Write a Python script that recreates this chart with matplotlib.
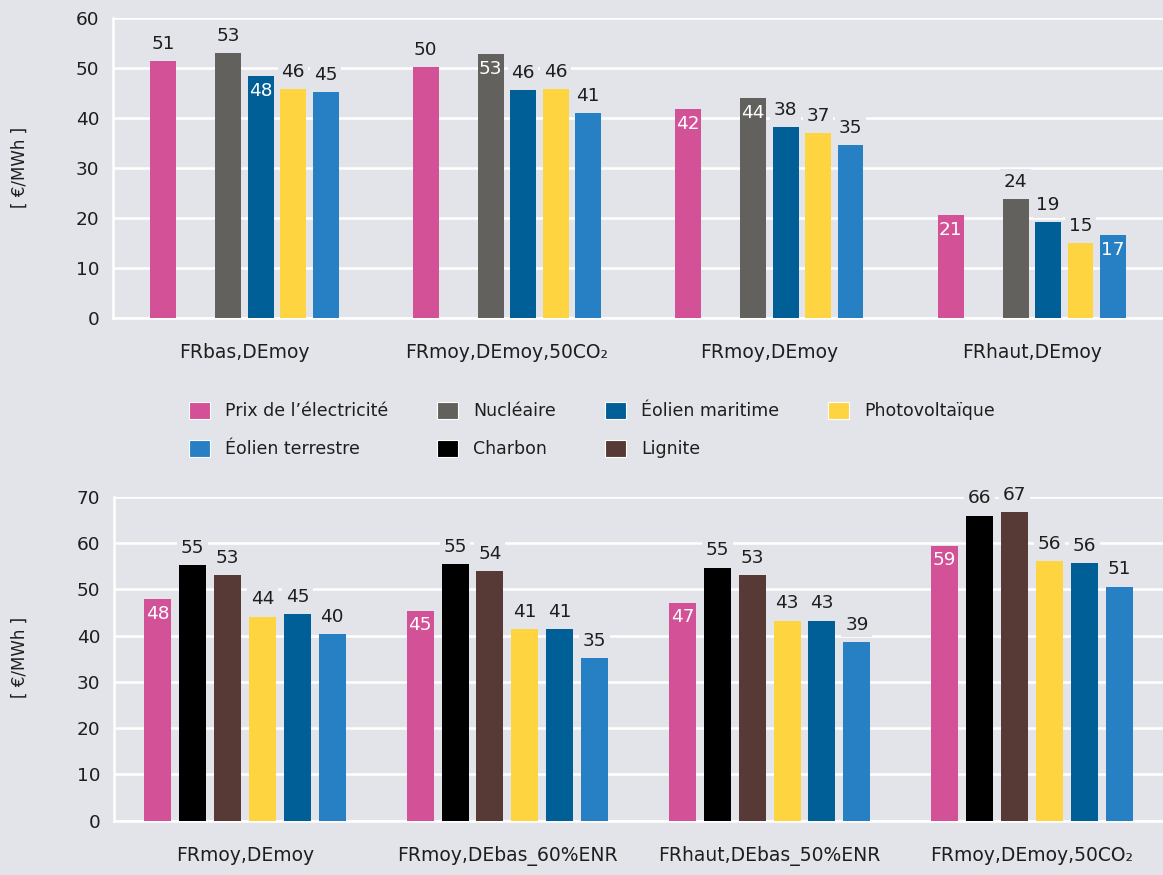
import matplotlib
matplotlib.use("Agg")
import matplotlib.pyplot as plt
import numpy as np
from matplotlib.patches import Patch

# --- data ---
cats_top = ["FRbas,DEmoy", "FRmoy,DEmoy,50CO₂", "FRmoy,DEmoy", "FRhaut,DEmoy"]
prix_top = [51.4, 50.1, 41.7, 20.6]
nucleaire_top = [53.0, 52.7, 44.0, 23.8]
eolmar_top = [48.3, 45.6, 38.2, 19.1]
pv_top = [45.7, 45.7, 37.0, 14.9]
eolter_top = [45.1, 41.0, 34.6, 16.6]

cats_bot = ["FRmoy,DEmoy", "FRmoy,DEbas_60%ENR", "FRhaut,DEbas_50%ENR", "FRmoy,DEmoy,50CO₂"]
prix_bot = [47.9, 45.4, 47.1, 59.4]
charbon_bot = [55.2, 55.4, 54.7, 65.9]
lignite_bot = [53.1, 53.9, 53.1, 66.6]
pv_bot = [44.1, 41.4, 43.2, 56.1]
eolmar_bot = [44.6, 41.4, 43.2, 55.6]
eolter_bot = [40.3, 35.1, 38.6, 50.6]

BG = "#e3e4e9"
TXT = "#1e1e1e"
C = {
    "Prix de l’électricité": "#d35196",
    "Nucléaire": "#63615e",
    "Éolien maritime": "#005f96",
    "Photovoltaïque": "#fed541",
    "Éolien terrestre": "#2880c4",
    "Charbon": "#000000",
    "Lignite": "#573a36",
}

plt.rcParams["font.family"] = ["DejaVu Sans"]
FS = 12.5      # legend
FS_NUM = 13.3  # ticks and value labels
FS_CAT = 13.5  # group names

fig = plt.figure(figsize=(11.63, 8.75), dpi=100, facecolor=BG)
ax1 = fig.add_axes([0.0972, 0.6366, 0.9028, 0.3429])
ax2 = fig.add_axes([0.098, 0.0621, 0.902, 0.3702])


def style(ax, ymax, cats):
    ax.set_facecolor(BG)
    ax.set_xlim(-0.5, len(cats) - 0.5)
    ax.set_ylim(0, ymax)
    ax.set_yticks(np.arange(0, ymax + 1, 10))
    ax.set_xticks(range(len(cats)))
    ax.set_xticklabels(cats)
    ax.grid(axis="y", color="white", lw=1.8)
    ax.set_axisbelow(True)
    for s in ["top", "right"]:
        ax.spines[s].set_visible(False)
    for s in ["left", "bottom"]:
        ax.spines[s].set_color("white")
        ax.spines[s].set_linewidth(1.8)
    ax.tick_params(axis="x", length=0, pad=18, colors=TXT, labelsize=FS_CAT)
    ax.tick_params(axis="y", length=0, pad=10, colors=TXT, labelsize=FS_NUM)


def draw(ax, series, pitch, width, inside):
    x = np.arange(4)
    n = len(series)
    for i, (name, vals) in enumerate(series):
        if vals is None:
            continue
        xs = x + (i - (n - 1) / 2) * pitch
        ax.bar(xs, vals, width=width, color=C[name], zorder=3)
        for g, (xx, v) in enumerate(zip(xs, vals)):
            lab = f"{v:.0f}"
            if (g, i) in inside:
                ax.annotate(lab, (xx, v), xytext=(0, -4), textcoords="offset points",
                            ha="center", va="top", color="white", fontsize=FS_NUM, zorder=4)
            else:
                ax.annotate(lab, (xx, v), xytext=(0, 6), textcoords="offset points",
                            ha="center", va="bottom", color=TXT, fontsize=FS_NUM, zorder=4,
                            bbox=dict(boxstyle="square,pad=0.2", fc=BG, ec="none"))


style(ax1, 60, cats_top)
top_series = [("Prix de l’électricité", prix_top), ("gap", None),
              ("Nucléaire", nucleaire_top), ("Éolien maritime", eolmar_top),
              ("Photovoltaïque", pv_top), ("Éolien terrestre", eolter_top)]
inside_top = {(0, 3), (1, 2), (2, 0), (2, 2), (3, 0), (3, 5)}
draw(ax1, top_series, 0.1238, 0.099, inside_top)

style(ax2, 70, cats_bot)
bot_series = [("Prix de l’électricité", prix_bot), ("Charbon", charbon_bot),
              ("Lignite", lignite_bot), ("Photovoltaïque", pv_bot),
              ("Éolien maritime", eolmar_bot), ("Éolien terrestre", eolter_bot)]
inside_bot = {(0, 0), (1, 0), (2, 0), (3, 0)}
draw(ax2, bot_series, 0.133, 0.103, inside_bot)

for yc in [0.809, 0.249]:
    fig.text(20 / 1163, yc, "[ €/MWh ]", rotation=90, ha="center", va="center",
             color=TXT, fontsize=12)

# legend filled column-wise so it reads row by row
order = ["Prix de l’électricité", "Éolien terrestre", "Nucléaire", "Charbon",
         "Éolien maritime", "Lignite", "Photovoltaïque"]
handles = [Patch(facecolor=C[k], edgecolor="white", linewidth=0.8, label=k) for k in order]
fig.legend(handles=handles, ncol=4, loc="center", bbox_to_anchor=(0.509, 0.5086),
           frameon=False, handlelength=1.2, handleheight=1.2, handletextpad=0.9,
           columnspacing=2.8, labelspacing=1.1, fontsize=FS, labelcolor=TXT)

fig.savefig("out.png", dpi=100, facecolor=BG)
